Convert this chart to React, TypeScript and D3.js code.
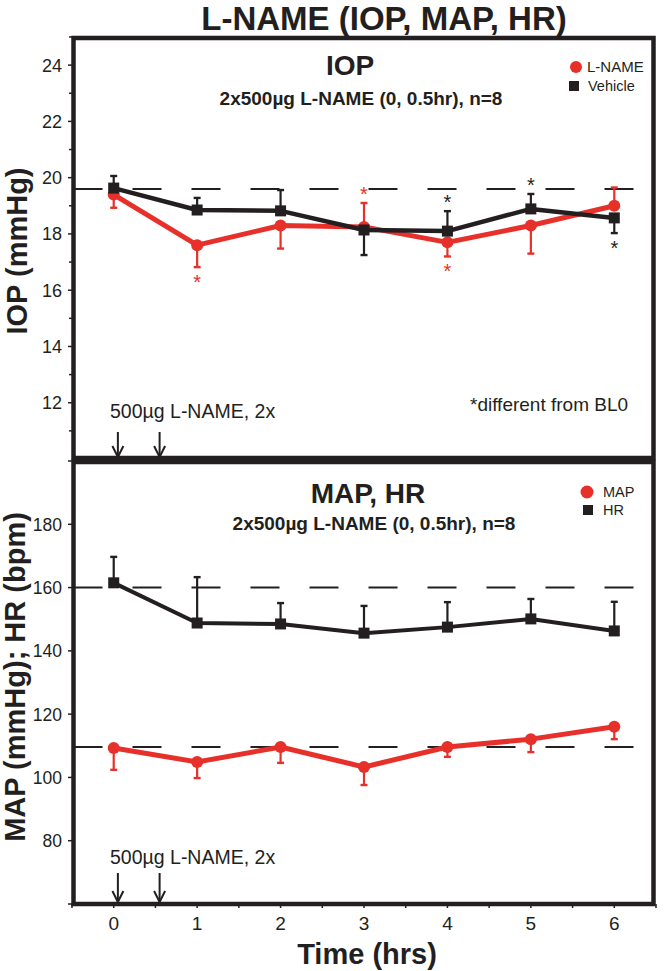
import React from "react";
import * as d3 from "d3";

const hours = [0, 1, 2, 3, 4, 5, 6];
const xTicks = [0, 1, 2, 3, 4, 5, 6];
const xMinorTicks = [-0.5, 0.5, 1.5, 2.5, 3.5, 4.5, 5.5, 6.5];

const iopTicks = [12, 14, 16, 18, 20, 22, 24];
const iopMinorTicks = [11, 13, 15, 17, 19, 21, 23, 25];
const lnameIOP = [19.4, 17.6, 18.3, 18.25, 17.7, 18.3, 19.0];
const lnameIOPErr = [0.47, 0.78, 0.82, 0.85, 0.5, 1.0, 0.65];
const lnameIOPErrDir = [-1, -1, -1, 1, -1, -1, 1];
const lnameStars = [1, 3, 4];
const vehicleIOP = [19.63, 18.85, 18.82, 18.14, 18.1, 18.89, 18.57];
const vehicleIOPErr = [0.43, 0.43, 0.74, 0.89, 0.71, 0.53, 0.54];
const vehicleIOPErrDir = [1, 1, 1, -1, 1, 1, -1];
const vehicleStars = [4, 5, 6];
const iopBaseline = 19.6;

const bpTicks = [80, 100, 120, 140, 160, 180];
const bpUnlabeledTicks = [60, 200];
const hr = [161.5, 148.8, 148.5, 145.6, 147.5, 150.1, 146.3];
const hrErr = [8.2, 14.5, 6.6, 8.6, 7.9, 6.3, 9.2];
const hrErrDir = [1, 1, 1, 1, 1, 1, 1];
const map = [109.3, 104.9, 109.6, 103.3, 109.6, 112.1, 116.0];
const mapErr = [6.9, 5.1, 5.0, 5.7, 3.1, 4.1, 3.9];
const mapErrDir = [-1, -1, -1, -1, -1, -1, -1];
const hrBaseline = 160;
const mapBaseline = 109.6;

const doseTimes = [0.05, 0.55];

const RED = "#e8302a";
const BLK = "#231f20";
const FONT = "'Liberation Sans', Arial, Helvetica, sans-serif";

const x = d3.scaleLinear().domain([-0.5, 6.5]).range([72, 656]);
const yTop = d3.scaleLinear().domain([10, 25]).range([459, 37]);
const yBot = d3.scaleLinear().domain([60, 200]).range([904, 461]);

const L = 73.5;
const R = 653.5;

function Series({ values, errs, dirs, y, color, shape, width, stars }: any) {
  const line = d3
    .line<number>()
    .x((_, i) => x(hours[i]))
    .y((v) => y(v));
  return (
    <g>
      <path d={line(values) || ""} fill="none" stroke={color} strokeWidth={width} strokeLinejoin="round" />
      {values.map((v: number, i: number) => {
        const cx = x(hours[i]);
        const y0 = y(v);
        const y1 = y(v + dirs[i] * errs[i]);
        return (
          <g key={i}>
            <line x1={cx} x2={cx} y1={y0} y2={y1} stroke={color} strokeWidth={2.2} />
            <line x1={cx - 3.5} x2={cx + 3.5} y1={y1} y2={y1} stroke={color} strokeWidth={2.4} />
          </g>
        );
      })}
      {values.map((v: number, i: number) => {
        const cx = x(hours[i]);
        const cy = y(v);
        return shape === "circle" ? (
          <circle key={"m" + i} cx={cx} cy={cy} r={6} fill={color} />
        ) : (
          <rect key={"m" + i} x={cx - 5.5} y={cy - 5.5} width={11} height={11} fill={color} />
        );
      })}
      {(stars || []).map((h: number) => {
        const i = hours.indexOf(h);
        const cx = x(h);
        const ye = y(values[i] + dirs[i] * errs[i]);
        const cy = ye + dirs[i] * -12;
        return (
          <text key={"s" + h} x={cx} y={cy + 10} textAnchor="middle" fontSize={20} fill={color} fontFamily={FONT}>
            *
          </text>
        );
      })}
    </g>
  );
}

function Arrows({ yStart, yEnd }: any) {
  return (
    <g stroke={BLK} strokeWidth={2} fill="none">
      {doseTimes.map((t, i) => {
        const ax = x(t);
        return (
          <g key={i}>
            <line x1={ax} x2={ax} y1={yStart} y2={yEnd} />
            <polyline points={`${ax - 5.5},${yEnd - 11} ${ax},${yEnd} ${ax + 5.5},${yEnd - 11}`} />
          </g>
        );
      })}
    </g>
  );
}

export default function App() {
  return (
    <svg
      width={664}
      height={971}
      viewBox="0 0 664 971"
      style={{ position: "absolute", left: 0, top: 0, background: "#fff" }}
      fontFamily={FONT}
    >
      <rect x={0} y={0} width={664} height={971} fill="#fff" />
      {/* Title */}
      <text x={384} y={30} textAnchor="middle" fontSize={33} fontWeight="bold" fill={BLK}>
        L-NAME (IOP, MAP, HR)
      </text>

      {/* ===== Top panel ===== */}
      <line x1={L} x2={634} y1={yTop(iopBaseline)} y2={yTop(iopBaseline)} stroke={BLK} strokeWidth={2} strokeDasharray="29 30" />
      <Series values={lnameIOP} errs={lnameIOPErr} dirs={lnameIOPErrDir} y={yTop} color={RED} shape="circle" width={5} stars={lnameStars} />
      <Series values={vehicleIOP} errs={vehicleIOPErr} dirs={vehicleIOPErrDir} y={yTop} color={BLK} shape="square" width={4.5} stars={vehicleStars} />

      <text x={350} y={75} textAnchor="middle" fontSize={28} fontWeight="bold" fill={BLK}>IOP</text>
      <text x={361} y={105} textAnchor="middle" fontSize={19} fontWeight="bold" fill={BLK}>
        2x500µg L-NAME (0, 0.5hr), n=8
      </text>
      <circle cx={576} cy={67} r={6} fill={RED} />
      <text x={587} y={72} fontSize={15} fill={BLK}>L-NAME</text>
      <rect x={569} y={81} width={10} height={10} fill={BLK} />
      <text x={588} y={91} fontSize={14.5} fill={BLK}>Vehicle</text>
      <text x={470} y={411} fontSize={19} fill={BLK}>*different from BL0</text>
      <text x={110} y={418} fontSize={19.5} fill={BLK}>500µg L-NAME, 2x</text>
      <Arrows yStart={432} yEnd={457} />

      {iopTicks.map((t) => (
        <g key={t}>
          <line x1={68} x2={L} y1={yTop(t)} y2={yTop(t)} stroke={BLK} strokeWidth={1.5} />
          <text x={62} y={yTop(t) + 6.5} textAnchor="end" fontSize={18} fill={BLK}>{t}</text>
        </g>
      ))}
      {iopMinorTicks.map((t) => (
        <line key={"m" + t} x1={69} x2={L} y1={yTop(t)} y2={yTop(t)} stroke={BLK} strokeWidth={1.5} />
      ))}
      <text transform={`translate(27,${251}) rotate(-90)`} textAnchor="middle" fontSize={29} fontWeight="bold" fill={BLK}>
        IOP (mmHg)
      </text>
      <rect x={L} y={38} width={R - L} height={458 - 38} fill="none" stroke={BLK} strokeWidth={4.5} />

      {/* ===== Bottom panel ===== */}
      <line x1={L} x2={634} y1={yBot(hrBaseline)} y2={yBot(hrBaseline)} stroke={BLK} strokeWidth={2} strokeDasharray="29 30" />
      <line x1={L} x2={634} y1={yBot(mapBaseline)} y2={yBot(mapBaseline)} stroke={BLK} strokeWidth={2} strokeDasharray="29 30" />
      <Series values={hr} errs={hrErr} dirs={hrErrDir} y={yBot} color={BLK} shape="square" width={4} />
      <Series values={map} errs={mapErr} dirs={mapErrDir} y={yBot} color={RED} shape="circle" width={5} />

      <text x={368} y={503} textAnchor="middle" fontSize={28} fontWeight="bold" fill={BLK}>MAP, HR</text>
      <text x={374} y={530} textAnchor="middle" fontSize={19} fontWeight="bold" fill={BLK}>
        2x500µg L-NAME (0, 0.5hr), n=8
      </text>
      <circle cx={587} cy={492} r={6.5} fill={RED} />
      <text x={603} y={497} fontSize={14.5} fill={BLK}>MAP</text>
      <rect x={583} y={505} width={10} height={10} fill={BLK} />
      <text x={603} y={515} fontSize={14.5} fill={BLK}>HR</text>
      <text x={110} y={864} fontSize={19.5} fill={BLK}>500µg L-NAME, 2x</text>
      <Arrows yStart={873} yEnd={902} />

      {bpTicks.map((t) => (
        <g key={t}>
          <line x1={68} x2={L} y1={yBot(t)} y2={yBot(t)} stroke={BLK} strokeWidth={1.5} />
          <text x={62} y={yBot(t) + 6.5} textAnchor="end" fontSize={17.5} fill={BLK}>{t}</text>
        </g>
      ))}
      {bpUnlabeledTicks.map((t) => (
        <line key={"u" + t} x1={68} x2={L} y1={yBot(t)} y2={yBot(t)} stroke={BLK} strokeWidth={1.5} />
      ))}
      <text transform={`translate(25,${677}) rotate(-90)`} textAnchor="middle" fontSize={29} fontWeight="bold" fill={BLK}>
        MAP (mmHg); HR (bpm)
      </text>
      <rect x={L} y={462} width={R - L} height={904 - 462} fill="none" stroke={BLK} strokeWidth={4.5} />

      {/* x axis */}
      {xTicks.map((t) => (
        <g key={"x" + t}>
          <line x1={x(t)} x2={x(t)} y1={904} y2={908} stroke={BLK} strokeWidth={1.5} />
          <text x={x(t)} y={930} textAnchor="middle" fontSize={19} fill={BLK}>{t}</text>
        </g>
      ))}
      {xMinorTicks.map((t) => (
        <line key={"xm" + t} x1={x(t)} x2={x(t)} y1={904} y2={908} stroke={BLK} strokeWidth={1.5} />
      ))}
      <text x={367} y={964} textAnchor="middle" fontSize={29} fontWeight="bold" fill={BLK}>Time (hrs)</text>
    </svg>
  );
}
